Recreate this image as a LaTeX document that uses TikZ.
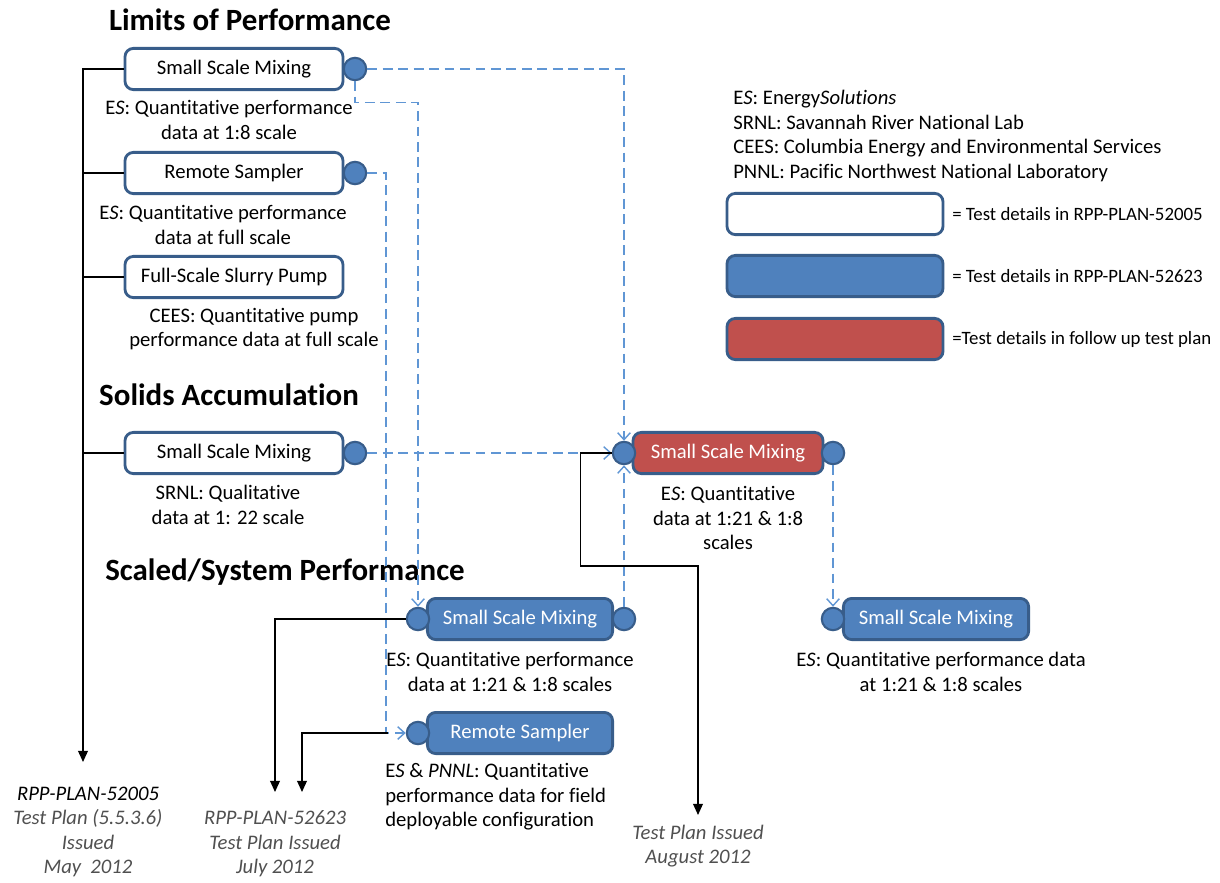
\documentclass[tikz,border=0pt]{standalone}
\usepackage{fontspec}
\setmainfont{Carlito}[RawFeature=-liga]
\usetikzlibrary{arrows.meta}
\definecolor{steel}{RGB}{79,129,189}
\definecolor{deepsteel}{RGB}{56,93,138}
\definecolor{brick}{RGB}{192,80,77}
\definecolor{dashblue}{RGB}{96,150,212}
\definecolor{ghost}{RGB}{80,80,80}
\newcommand\boxfont{\fontsize{14.7}{17.5}\selectfont}
\newcommand\keyfont{\fontsize{13.4}{16}\selectfont}
\newcommand\headfont{\fontsize{22}{26}\selectfont\bfseries}

\tikzset{
  stage/.style={draw=deepsteel,line width=2pt,rounded corners=6pt,
    minimum height=1.03cm,inner sep=0pt,font=\boxfont},
  oldstage/.style={stage,fill=white,minimum width=5.45cm},
  newstage/.style={stage,fill=steel,text=white,minimum width=4.63cm},
  nextstage/.style={stage,fill=brick,text=white,minimum width=4.75cm},
  port/.style={circle,draw=deepsteel,fill=steel,line width=1.5pt,
    minimum size=0.56cm,inner sep=0pt},
  note/.style={font=\boxfont,align=center,inner sep=0pt},
  keynote/.style={font=\keyfont,anchor=west,inner sep=0pt},
  plannote/.style={note,font=\boxfont\itshape,text=ghost},
  head/.style={font=\headfont,inner sep=0pt},
  feed/.style={dashblue,line width=1pt,dash pattern=on 7pt off 4pt,
    -{Straight Barb[length=5pt,width=9pt]}},
  plan/.style={black,line width=1pt,-{Triangle[length=8pt,width=7pt]}},
  trunk/.style={black,line width=1pt}
}

\begin{document}
\begin{tikzpicture}[x=0.025cm,y=-0.025cm]
  \useasboundingbox (0,0) rectangle (1220,882);

  % section titles
  \node[head] (tLimits) at (250,20) {Limits of Performance};
  \node[head] (tSolids) at (229,395) {Solids Accumulation};
  \node[head] (tScaled) at (285,572) {Scaled/System Performance};

  % tests in RPP-PLAN-52005
  \node[oldstage] (lpMix) at (234,69) {Small Scale Mixing};
  \node[port] (lpMixR) at (355,69) {};
  \node[note] at (229,120) {E\textit{S}: Quantitative performance\\data at 1:8 scale};
  \node[oldstage] (lpSampler) at (234,173) {Remote Sampler};
  \node[port] (lpSamplerR) at (355,173) {};
  \node[note] at (223,225) {E\textit{S}: Quantitative performance\\data at full scale};
  \node[oldstage] (lpPump) at (234,277) {Full-Scale Slurry Pump};
  \node[note] at (254,329) {CEES: Quantitative pump\\performance data at full scale};
  \node[oldstage] (saMix) at (234,453) {Small Scale Mixing};
  \node[port] (saMixR) at (355,453) {};
  \node[note] at (228,505) {SRNL: Qualitative\\data at 1: 22 scale};

  % tests in RPP-PLAN-52623
  \node[newstage] (spMix) at (520,619) {Small Scale Mixing};
  \node[port] (spMixL) at (418,619) {};
  \node[port] (spMixR) at (624,619) {};
  \node[note] at (510,672) {E\textit{S}: Quantitative performance\\data at 1:21 \& 1:8 scales};
  \node[newstage] (spSampler) at (520,733) {Remote Sampler};
  \node[port] (spSamplerL) at (418,733) {};
  \node[note,anchor=west,align=left] at (385,797)
    {E\textit{S} \& \textit{PNNL}: Quantitative\\performance data for field\\deployable configuration};
  \node[newstage] (fuMix2) at (936,619) {Small Scale Mixing};
  \node[port] (fuMix2L) at (833,619) {};
  \node[note] at (941,672) {E\textit{S}: Quantitative performance data\\at 1:21 \& 1:8 scales};

  % follow up test plan
  \node[nextstage] (fuMix) at (728,453) {Small Scale Mixing};
  \node[port] (fuMixL) at (624,453) {};
  \node[port] (fuMixR) at (833,453) {};
  \node[note] at (728,518) {E\textit{S}: Quantitative\\data at 1:21 \& 1:8\\scales};

  % legend
  \node[note,anchor=west,align=left] (key) at (733,136)
    {E\textit{S}: Energy\textit{Solutions}\\SRNL: Savannah River National Lab\\
     CEES: Columbia Energy and Environmental Services\\PNNL: Pacific Northwest National Laboratory};
  \node[stage,fill=white,minimum width=5.4cm] (keyOld) at (835,214) {};
  \node[stage,fill=steel,minimum width=5.4cm] (keyNew) at (835,276) {};
  \node[stage,fill=brick,minimum width=5.4cm] (keyNext) at (835,339) {};
  \node[keynote] at (952,214) {= Test details in RPP-PLAN-52005};
  \node[keynote] at (952,276) {= Test details in RPP-PLAN-52623};
  \node[keynote] at (952,339) {=Test details in follow up test plan};

  % issue dates
  \node[plannote] (planMay) at (88,832)
    {\textcolor{black}{RPP-PLAN-52005}\\Test Plan (5.5.3.6)\\Issued\\May\ \ 2012};
  \node[plannote] (planJuly) at (275,844) {RPP-PLAN-52623\\Test Plan Issued\\July 2012};
  \node[plannote] (planAug) at (698,846) {Test Plan Issued\\August 2012};
  \coordinate (mayEnd) at (83,762);
  \coordinate (julyEndA) at (275,792);
  \coordinate (julyEndB) at (302,792);
  \coordinate (augEnd) at (698,815);
  \coordinate (samplerTap) at (388,733);

  % data feeds
  \draw[feed] (lpMixR.east) -| (fuMixL.north);
  \draw[feed] (lpMixR.south) -- ++(0,21) -| (spMixL.north);
  \draw[feed] (lpSamplerR.east) -- ++(18.6,0) |- (spSamplerL.west);
  \draw[feed] (saMixR.east) -- (fuMixL.west);
  \draw[feed] (spMixR.north) -- (fuMixL.south);
  \draw[feed] (fuMixR.south) -- (fuMix2L.north);

  % plan issue lines
  \draw[plan] (lpMix.west) -| (mayEnd);
  \foreach \t in {lpSampler,lpPump,saMix}
    \draw[trunk] (\t.west) -- (\t.west -| mayEnd);
  \draw[plan] (spMixL.west) -| (julyEndA);
  \draw[plan] (samplerTap) -| (julyEndB);
  \draw[plan] (fuMixL.west) -- ++(-31,0) -- ++(0,113) -| (augEnd);
\end{tikzpicture}
\end{document}
